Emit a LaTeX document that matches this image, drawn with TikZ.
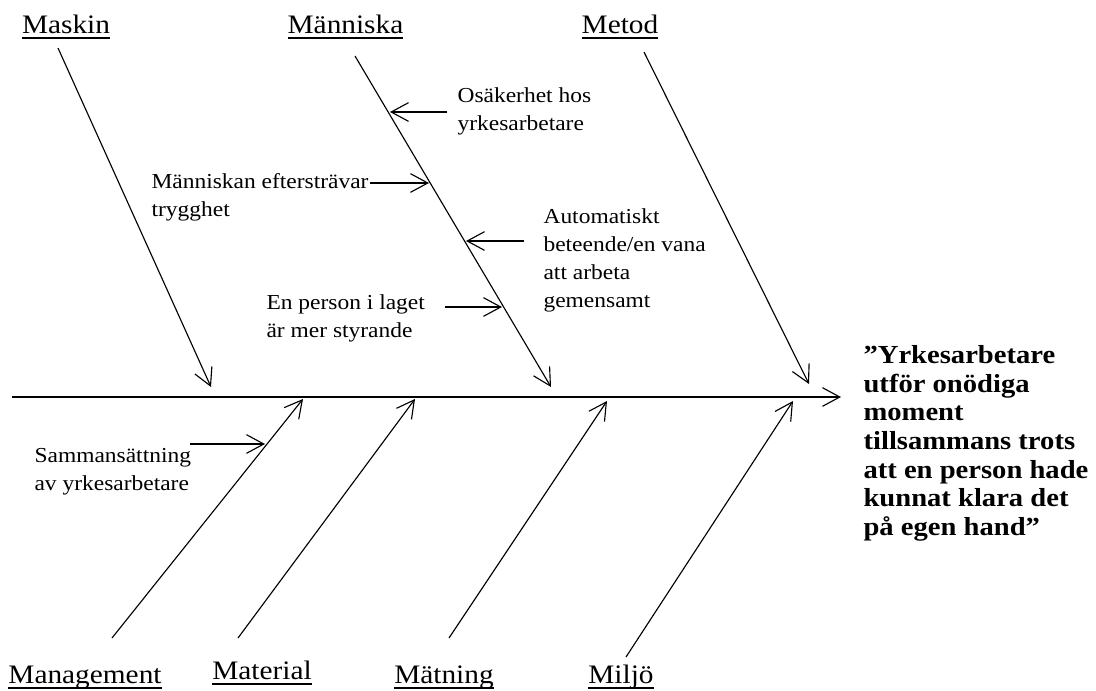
\documentclass[tikz,border=0pt]{standalone}
\usepackage{fontspec}
\setmainfont{Liberation Serif}[FakeStretch=1.1]
\usetikzlibrary{arrows.meta}
\newsavebox\ulbox
\newcommand{\ulword}[1]{\sbox\ulbox{#1}\rlap{\rule[-4.5pt]{\wd\ulbox}{1.2pt}}\usebox\ulbox}
\begin{document}
\begin{tikzpicture}[x=0.75pt,y=-0.75pt,line width=0.85pt,
  bone/.style={-{Straight Barb[length=13pt,width=14pt]}},
  heading/.style={font=\fontsize{20}{24}\selectfont,inner sep=0pt,anchor=base},
  cause/.style={font=\fontsize{16}{21}\selectfont,align=left,inner sep=0pt,anchor=north west},
  effect/.style={font=\bfseries\fontsize{19.5}{21.5}\selectfont,align=left,inner sep=0pt,anchor=north west}]
\useasboundingbox (0,0) rectangle (1096,690);

% headings
\node[heading] (maskin) at (66,33) {\ulword{Maskin}};
\node[heading] (manniska) at (345.5,33) {\ulword{Människa}};
\node[heading] (metod) at (620,33) {\ulword{Metod}};
\node[heading] (management) at (85,683) {\ulword{Management}};
\node[heading] (material) at (262,679) {\ulword{Material}};
\node[heading] (matning) at (444,683) {\ulword{Mätning}};
\node[heading] (miljo) at (621,683) {\ulword{Miljö}};

% spine
\coordinate (spineS) at (12,397);
\coordinate (spineE) at (841,397);
\draw[bone] (spineS) -- (spineE);

% effect
\node[effect] (effect) at (863,345) {”Yrkesarbetare\\utför onödiga\\moment\\tillsammans trots\\att en person hade\\kunnat klara det\\på egen hand”};

% top bones
\coordinate (maskinS) at (58,48);   \coordinate (maskinE) at (211,387);
\coordinate (manniskaS) at (355,56); \coordinate (manniskaE) at (551,387);
\coordinate (metodS) at (644,52);   \coordinate (metodE) at (809,384);
\draw[bone] (maskinS) -- (maskinE);
\draw[bone] (manniskaS) -- (manniskaE);
\draw[bone] (metodS) -- (metodE);

% bottom bones
\coordinate (managementS) at (112,638); \coordinate (managementE) at (303,399);
\coordinate (materialS) at (238,638);   \coordinate (materialE) at (415,399);
\coordinate (matningS) at (449,638);    \coordinate (matningE) at (607,401);
\coordinate (miljoS) at (626,657);      \coordinate (miljoE) at (793,401);
\draw[bone] (managementS) -- (managementE);
\draw[bone] (materialS) -- (materialE);
\draw[bone] (matningS) -- (matningE);
\draw[bone] (miljoS) -- (miljoE);

% causes
\node[cause] (osak) at (457,87.3) {Osäkerhet hos\\yrkesarbetare};
\node[cause] (trygg) at (151,173.3) {Människan eftersträvar\\trygghet};
\node[cause] (auto) at (543,208.3) {Automatiskt\\beteende/en vana\\att arbeta\\gemensamt};
\node[cause] (person) at (266,294.3) {En person i laget\\är mer styrande};
\node[cause] (samman) at (34,447.3) {Sammansättning\\av yrkesarbetare};

\coordinate (osakS) at (447,112);   \coordinate (osakE) at (390,112);
\coordinate (tryggS) at (370,183);  \coordinate (tryggE) at (429,183);
\coordinate (autoS) at (524,241);   \coordinate (autoE) at (466,241);
\coordinate (personS) at (445,307); \coordinate (personE) at (502,307);
\coordinate (sammanS) at (190,444); \coordinate (sammanE) at (265,444);
\draw[bone] (osakS) -- (osakE);
\draw[bone] (tryggS) -- (tryggE);
\draw[bone] (autoS) -- (autoE);
\draw[bone] (personS) -- (personE);
\draw[bone] (sammanS) -- (sammanE);
\end{tikzpicture}
\end{document}
